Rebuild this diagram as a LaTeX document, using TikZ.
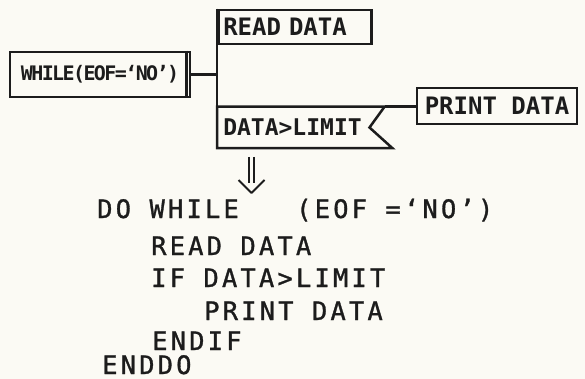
\documentclass[tikz,border=0pt]{standalone}
\usepackage{fontspec}
\usepackage{xcolor}
\usepackage{tikz}
\usetikzlibrary{calc}

\newfontfamily\handfont{DejaVu Sans Mono}
\newfontfamily\tightfont[LetterSpace=-8]{DejaVu Sans Mono}
\newfontfamily\codefont[LetterSpace=12.6,FakeBold=1.2]{DejaVu Sans Mono}

\definecolor{paper}{HTML}{FBFAF4}
\definecolor{ink}{HTML}{1C1C1C}

\tikzset{
  box/.style={draw=ink, line width=2.5pt, inner sep=0pt, text=ink},
  code/.style={anchor=base west, inner sep=0pt, text=ink, text depth=0pt,
    font=\fontsize{25.4}{30}\codefont},
}

\begin{document}
\begin{tikzpicture}[x=1pt,y=-1pt,line width=2.5pt,draw=ink]

\fill[paper] (0,0) rectangle (585,379); % sheet
\useasboundingbox (0,0) rectangle (585,379);

% the chart
\node[box, minimum width=180pt, minimum height=45pt,
      font=\fontsize{20}{24}\tightfont\bfseries] (while) at (100,74.5) {WHILE(EOF=‘NO’)};
\draw ($(while.north east)+(-5,0)$) -- ($(while.south east)+(-5,0)$); % double bar

\node[box, anchor=west, text width=143pt, inner xsep=5pt, align=left,
      minimum height=34pt, font=\fontsize{24}{28}\handfont\bfseries] (read) at (217,27) {READ DATA};

\node[anchor=west, text width=155pt, inner xsep=5pt, align=left, inner ysep=0pt,
      minimum height=39pt, text=ink, font=\fontsize{23}{27}\handfont\bfseries] (limit) at (217,127.5) {DATA>LIMIT};
\draw[line join=miter] (limit.north west) -- (limit.north east)
   -- ($(limit.east)+(-15,0)$) -- ($(limit.south east)+(8,0)$)
   -- (limit.south west) -- cycle; % flag box

\node[box, minimum width=160pt, minimum height=36pt,
      font=\fontsize{24}{28}\handfont\bfseries] (print) at (497,106) {PRINT DATA};

\draw (read.north west) -- (limit.south west); % bracket
\draw (while.east) -- (while.east -| read.west);
\draw (limit.north east) -- (limit.north east -| print.west);

% arrow down to the code
\coordinate (tip) at (251.5,193);
\draw[line width=1.8pt] ($(tip)+(-2.5,-36)$) -- ++(0,26);
\draw[line width=1.8pt] ($(tip)+(2.5,-36)$) -- ++(0,26);
\draw[line width=1.8pt,line join=round] ($(tip)+(-13,-13)$) -- (tip) -- ($(tip)+(13,-13)$);

% the code
\node[code] (do) at (96,218) {DO WHILE};
\node[code] (cond) at (295,218) {(EOF =‘NO’)};
\node[code] (rd) at (150,255) {READ DATA};
\node[code] (if) at (150,287) {IF DATA>LIMIT};
\node[code] (pr) at (203,320) {PRINT DATA};
\node[code] (endif) at (151,350) {ENDIF};
\node[code] (enddo) at (101,374) {ENDDO};

\end{tikzpicture}
\end{document}
